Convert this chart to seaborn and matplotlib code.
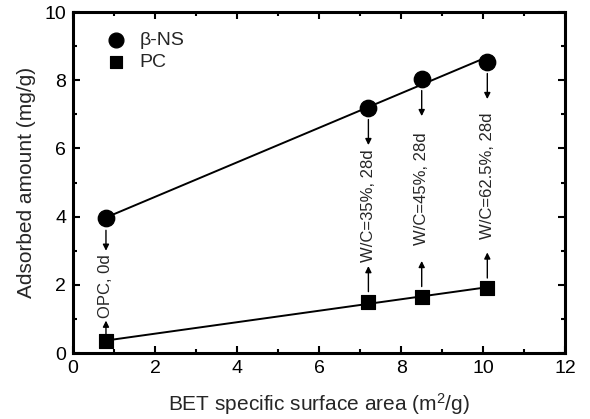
import numpy as np
import pandas as pd
import matplotlib
matplotlib.use("Agg")
import matplotlib.pyplot as plt
from matplotlib.ticker import MultipleLocator
import seaborn as sns

# BET specific surface area (m2/g) of each paste
bet_area = [0.8, 7.2, 8.5, 10.1]
# adsorbed amounts (mg/g)
beta_ns = [3.95, 7.2, 8.05, 8.55]
pc = [0.35, 1.5, 1.65, 1.9]
# sample conditions
conditions = ["OPC, 0d", "W/C=35%, 28d", "W/C=45%, 28d", "W/C=62.5%, 28d"]
series_names = ["\u03b2-NS", "PC"]

sns.set_theme(style="ticks")
plt.rcParams["font.family"] = ["Liberation Sans", "DejaVu Sans"]
plt.rcParams["mathtext.default"] = "regular"

df = pd.DataFrame({
    "area": bet_area * 2,
    "amount": beta_ns + pc,
    "series": [series_names[0]] * len(bet_area) + [series_names[1]] * len(bet_area),
})

fig = plt.figure(figsize=(5.9, 4.19), dpi=100)
ax = fig.add_axes([0.124, 0.1575, 0.834, 0.8135])

# linear fits for each adsorbent
for name in series_names:
    sub = df[df["series"] == name]
    sns.regplot(data=sub, x="area", y="amount", ax=ax, ci=None, scatter=False,
                truncate=True, color="black", line_kws={"lw": 1.4})

sns.scatterplot(data=df[df["series"] == series_names[0]], x="area", y="amount",
                marker="o", s=140, color="black", edgecolor="black",
                label=series_names[0], ax=ax, zorder=3)
sns.scatterplot(data=df[df["series"] == series_names[1]], x="area", y="amount",
                marker="s", s=105, color="black", edgecolor="black",
                label=series_names[1], ax=ax, zorder=3)

# arrows pointing from each marker pair to its condition label
arrow_kw = dict(arrowstyle="-|>", color="black", lw=1.0, mutation_scale=9,
                shrinkA=0, shrinkB=0)
for i, (x, yb, yp, lab) in enumerate(zip(bet_area, beta_ns, pc, conditions)):
    length = 0.6 if i == 0 else 0.75
    gap = 0.35
    top_start = yb - gap
    top_end = top_start - length
    bot_start = yp + (0.1 if i == 0 else 0.3)
    bot_end = bot_start + (0.5 if i == 0 else 0.75)
    ax.annotate("", xy=(x, top_end), xytext=(x, top_start), arrowprops=arrow_kw)
    ax.annotate("", xy=(x, bot_end), xytext=(x, bot_start), arrowprops=arrow_kw)
    ax.text(x, (top_end + bot_end) / 2, lab, rotation=90, ha="center",
            va="center", fontsize=12)

ax.set_xlim(0, 12)
ax.set_ylim(0, 10)
ax.xaxis.set_major_locator(MultipleLocator(2))
ax.xaxis.set_minor_locator(MultipleLocator(1))
ax.yaxis.set_major_locator(MultipleLocator(2))
ax.yaxis.set_minor_locator(MultipleLocator(1))
ax.tick_params(which="both", direction="in", top=True, right=True,
               labelsize=14, width=1.5, color="black", labelcolor="black")
ax.tick_params(which="major", length=5, pad=5)
ax.tick_params(which="minor", length=3)
for sp in ax.spines.values():
    sp.set_linewidth(2.2)
    sp.set_color("black")

ax.set_xlabel("BET specific surface area (m$^2$/g)", fontsize=15, labelpad=10)
ax.set_ylabel("Adsorbed amount (mg/g)", fontsize=15, labelpad=6)

ax.legend(loc="upper left", frameon=False, fontsize=14, handletextpad=0.2,
          labelspacing=0.2, borderaxespad=0.6, markerscale=0.9,
          bbox_to_anchor=(0.008, 1.0))

fig.savefig("out.png", dpi=100)
